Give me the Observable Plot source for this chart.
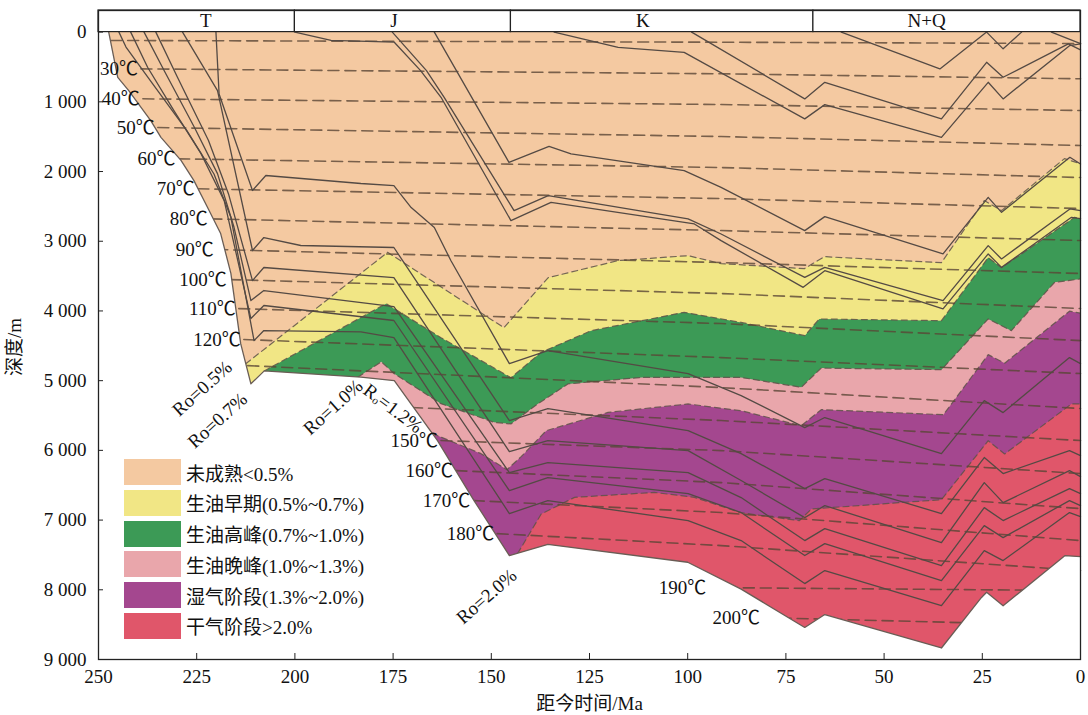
<!DOCTYPE html>
<html><head><meta charset="utf-8">
<script src="https://cdn.jsdelivr.net/npm/d3@7"></script>
<script src="https://cdn.jsdelivr.net/npm/@observablehq/plot@0.6"></script>
<style>
body{margin:0;background:#fff;}
#wrap{position:relative;width:1088px;height:715px;}
#legend{position:absolute;left:124px;top:459px;font-family:"Liberation Serif","Noto Sans CJK SC",serif;font-size:19px;color:#111;}
.row{display:flex;align-items:center;height:26px;margin-bottom:4.8px;}
.sw{width:57px;height:26px;margin-right:5px;}
</style></head><body><div id="wrap"></div>
<script>
const W = 1088, H = 715;
const periodNames = ["T","J","K","N+Q"];
const periodStart = [250,200,145,68];
const periodEnd = [200,145,68,0];
const periodLabelAt = [222.7,174.8,111.4,39.2];
const barTop = -310;
const xTicks = [250,225,200,175,150,125,100,75,50,25,0];
const yTicks = [0,1000,2000,3000,4000,5000,6000,7000,8000,9000];

const zoneNames = ["未成熟<0.5%","生油早期(0.5%~0.7%)","生油高峰(0.7%~1.0%)","生油晚峰(1.0%~1.3%)","湿气阶段(1.3%~2.0%)","干气阶段>2.0%"];
const zoneColors = ["#F4C9A1","#F1E685","#3C9A56","#E9A6AB","#A4478F","#E0566A"];

// deepest burial curve (base of section), [age Ma, depth m]
const baseCurve = [[247.4,0],[245.1,650],[242.3,840],[236.7,1270],[234.1,1510],[229,1840],[225.7,2130],[222.2,2520],[218.9,2890],[216.3,3460],[213.8,4470],[211.2,5045],[207.8,4860],[183.2,4950],[174.7,5000],[163.7,5860],[154.4,6720],[145.4,7510],[135.6,7350],[100,7605],[86.4,7990],[70.2,8540],[65.1,8355],[35.4,8835],[25.2,8110],[23.9,8035],[19.7,8230],[4,7510],[0,7525]];

// Ro iso-maturity boundaries
const ro05 = [[212.5,4757],[176.4,3159],[146.8,4240],[135.5,3522],[117.7,3278],[99.9,3207],[91.5,3321],[70.3,3393],[65.2,3221],[35.4,3307],[24.5,2417],[20.1,2561],[4.1,1815],[0,1887]];
const ro07 = [[207.8,4860],[176.8,3895],[162.8,4383],[145,4957],[137.3,4594],[124.6,4283],[100.9,4020],[86.4,4164],[70.2,4354],[66.5,4115],[35.4,4139],[23.5,3235],[20.1,3379],[1.5,2657],[0,2680]];
const ro10 = [[184,4950],[178,4730],[174.7,4900],[162.8,5330],[149.3,5598],[145,5621],[138.2,5334],[130.5,5047],[111.8,4953],[86.4,4953],[71.1,5096],[66,4820],[35.4,4842],[23.5,4115],[17.6,4283],[6.6,3590],[0,3541]];
const ro13 = [[165,5758],[152.6,6047],[146,6277],[142.4,6090],[136,5717],[120.3,5455],[99.9,5334],[86.4,5431],[71.1,5646],[66,5416],[34.9,5488],[23.5,4627],[19.3,4749],[2.8,4003],[0,4032]];
const ro20 = [[143.3,7480],[137.3,6913],[128.8,6674],[108.5,6603],[98.3,6674],[86.4,6894],[71.6,7009],[68.5,6841],[35.4,6707],[23.5,5861],[19.3,6052],[2.3,5334],[0,5334]];

// burial history lines
const lineA = [[134,0],[117.7,218],[100.9,290],[70.2,1245],[65.1,1040],[35.4,1509],[23.5,720],[19.7,958],[2.8,194],[0,169]];
const lineB = [[99,0],[70.2,958],[65.1,720],[35.4,1245],[23.9,433],[19.7,648],[3.1,169],[0,255]];
const lineE = [[60.9,0],[35.8,528],[23.9,0]];
const lineF = [[23.9,0],[19.7,240],[15,0]];
const lineG = [[7.4,0],[0,165]];
const lineC = [[164.5,0],[145.5,1868],[135.3,1638],[129.7,1747],[100.9,1987],[91.5,2227],[70.2,2848],[65.1,2647],[35,3182],[23.5,2370],[20.1,2585],[2.7,1796],[0,1891]];
const lineD1 = [[175.2,0],[166.5,552],[162,935],[144.2,2561],[135.5,2346],[99.9,2680],[91.5,2896],[70.2,3518],[65.1,3374],[35,3852],[23.5,3063],[20.1,3254],[2.7,2537],[0,2561]];
const lineD2 = [[200,0],[190.8,120],[174.7,145],[168,552],[162.8,935],[145,2704],[134.8,2442],[98.3,2752],[91.5,2991],[70.6,3661],[65.1,3422],[35,3971],[23.5,3182],[20.1,3375],[2.3,2657],[0,2676]];
const lineH = [[220.1,0],[219.3,887],[210.8,2272],[207.4,2057],[183.2,2172],[174.8,2201],[170.4,2517],[164.5,2803],[160.3,3277],[145.4,4755],[135.6,4568],[99.9,4898],[86.4,5214],[70.2,5673],[65.1,5529],[35.4,6046],[24.5,5286],[19.7,5458],[2.8,4669],[0,4755]];
const lineI = [[228.6,0],[219.7,840],[210.8,3133],[207.9,2947],[198.5,3061],[174.8,3090],[145.4,5572],[135.6,5400],[99.9,5716],[86.4,6046],[70.2,6548],[65.1,6405],[35.4,6907],[24.5,6103],[19.7,6333],[2.8,6003],[0,6075]];
const lineJ = [[235.4,0],[229.9,647],[222,1555],[216.9,2321],[210.8,3564],[207.9,3377],[174.8,3521],[145.4,6017],[135.6,5859],[99.9,6003],[86.4,6433],[70.2,6964],[65.1,6792],[35.4,7323],[24.5,6462],[19.7,6749],[2.8,6290],[0,6376]];
const lineK = [[238.4,0],[233.3,551],[225.6,1364],[219.7,2030],[215.5,2800],[211.2,3851],[207.9,3707],[174.8,3937],[145.4,6318],[135.6,6175],[99.9,6318],[86.4,6677],[70.2,7294],[65.1,7122],[35.4,7653],[24.5,6821],[19.7,7007],[2.8,6548],[0,6620]];
const lineK2 = [[241.8,0],[237.5,504],[230.8,1126],[223.9,1743],[218,2418],[211.2,4109],[207.9,3922],[174.8,4137],[145.4,6577],[135.6,6390],[99.9,6620],[86.4,6892],[70.2,7509],[65.1,7337],[35.4,7868],[24.5,7079],[19.7,7251],[2.8,6720],[0,6792]];
const lineL = [[244.8,0],[243,214],[236.2,743],[227.5,1413],[220.6,2035],[216.3,2656],[210.4,4425],[207.9,4281],[183.2,4300],[174.8,4382],[145.4,6907],[135.6,6720],[99.9,7007],[86.4,7294],[70.2,7911],[65.1,7724],[35.4,8227],[24.5,7438],[19.7,7581],[2.8,6892],[0,6950]];

// isotherms
const isoTemps  = [20,30,40,50,60,70,80,90,100,110,120,130,140,150,160,170,180,190,200];
const isoStartT = [246.9,239.2,238.7,234.9,229.6,224.7,221.4,219.9,216.6,214.3,213.0,212.0,170.3,162.8,159.0,154.6,148.5,94.5,80.8];
const isoStartD = [120,527,957,1369,1818,2248,2679,3119,3550,3966,4410,4784,5386,5859,6290,6720,7194,7968,8399];
const isoMidT = 91.5;
const isoMidD   = [145,598,1039,1498,1943,2388,2847,3306,3750,4181,4669,5099,5572,6003,6462,6892,7366,null,null];
const isoEndD   = [164,670,1125,1627,2086,2531,2990,3463,3965,4425,4898,5400,5859,6333,6835,7294,7724,8011,8514];
const isoUnlabelled = [20,130,140];

// Ro labels
const roLabelText = ["Ro=0.5%","Ro=0.7%","Ro=1.0%","Rₒ=1.2%","Ro=2.0%"];
const roLabelT = [223.6,219.7,190.3,175,151.2];
const roLabelD = [5113,5572,5382,5400,8097];
const roLabelAngle = [-42,-42,-42,37,-41];

// ---- build tables ----
const fmt = d => d3.format(",")(d).replace(/,/g, " ");
const px = p => p[0], py = p => p[1];
const roLines = [ro05, ro07, ro10, ro13, ro20];
const zonePolys = [baseCurve.concat([[0,0]])].concat(
  roLines.map(l => l.concat(baseCurve.filter(p => p[0] < l[0][0]).reverse())));
const maskPoly = [[250,0]].concat(baseCurve, [[0,9000],[250,9000]]);
const burialLines = [lineA,lineB,lineC,lineD1,lineD2,lineE,lineF,lineG,lineH,lineI,lineJ,lineK,lineK2,lineL];
const burialRows = burialLines.flatMap((pts,i) => pts.map(p => ({id:i, t:p[0], d:p[1]})));
const roRows = roLines.flatMap((pts,i) => pts.map(p => ({id:i, t:p[0], d:p[1]})));
const isoRows = isoTemps.flatMap((T,i) => {
  const pts = [[isoStartT[i], isoStartD[i]]];
  if (isoMidD[i] != null) pts.push([isoMidT, isoMidD[i]]);
  pts.push([0, isoEndD[i]]);
  return pts.map(p => ({T, t:p[0], d:p[1]}));
});
const isoLabels = isoTemps.map((T,i) => ({T, t:isoStartT[i], d:isoStartD[i]})).filter(o => !isoUnlabelled.includes(o.T));
const periods = periodNames.map((name,i) => ({name, s:periodStart[i], e:periodEnd[i], at:periodLabelAt[i]}));
const roLabels = roLabelText.map((s,i) => ({s, t:roLabelT[i], d:roLabelD[i], a:roLabelAngle[i]}));

const fontFam = '"Liberation Serif","Noto Sans CJK SC",serif';
const plot = Plot.plot({
  width: W, height: H,
  marginLeft: 98, marginRight: 8, marginTop: 10, marginBottom: 56,
  style: {fontFamily: fontFam, fontSize: "19px", background: "white", color: "#111"},
  x: {domain: [250, 0], label: null},
  y: {domain: [barTop, 9000], reverse: true, label: null},
  marks: [
    ...zonePolys.map((p,i) => Plot.line(p, {x: px, y: py, fill: zoneColors[i], stroke: "none", curve: "linear"})),
    Plot.line(roRows, {x: "t", y: "d", z: "id", stroke: "#5e5249", strokeWidth: 1.2, strokeDasharray: "6,4", strokeOpacity: 0.85, curve: "linear"}),
    Plot.line(isoRows, {x: "t", y: "d", z: "T", stroke: "#5a4636", strokeWidth: 1.6, strokeDasharray: "11,6", strokeOpacity: 0.8, curve: "linear"}),
    Plot.line(burialRows, {x: "t", y: "d", z: "id", stroke: "#544a44", strokeWidth: 1.3, curve: "linear"}),
    Plot.line(maskPoly, {x: px, y: py, fill: "white", stroke: "none"}),
    Plot.line(baseCurve, {x: px, y: py, stroke: "#6a5d55", strokeWidth: 1.3}),
    Plot.text(isoLabels, {x: "t", y: "d", text: o => `${o.T}℃`, textAnchor: "end", dx: -3, fill: "#111"}),
    Plot.text(roLabels, {x: "t", y: "d", text: "s", rotate: o => o.a, fill: "#111"}),
    Plot.rect(periods, {x1: "s", x2: "e", y1: () => barTop, y2: () => 0, fill: "white", stroke: "#222", strokeWidth: 1.2}),
    Plot.text(periods, {x: "at", y: () => barTop / 2, text: "name", fill: "#111"}),
    Plot.frame({stroke: "#222", strokeWidth: 1.3}),
    Plot.axisY(yTicks, {anchor: "left", tickSize: -5, tickPadding: 17, tickFormat: fmt, stroke: "#222", label: null}),
    Plot.axisX(xTicks, {anchor: "bottom", tickSize: -6, tickPadding: 16, tickFormat: d => String(d), stroke: "#222", label: null}),
    Plot.text(["距今时间/Ma"], {frameAnchor: "bottom", lineAnchor: "middle", dy: 44, fill: "#111"}),
    Plot.text(["深度/m"], {frameAnchor: "left", textAnchor: "middle", lineAnchor: "middle", dx: -84, dy: 12, rotate: -90, fill: "#111"})
  ]
});
const wrap = document.getElementById("wrap");
wrap.appendChild(plot);
const lg = document.createElement("div");
lg.id = "legend";
zoneNames.forEach((n,i) => {
  const r = document.createElement("div"); r.className = "row";
  const s = document.createElement("div"); s.className = "sw"; s.style.background = zoneColors[i];
  const t = document.createElement("span"); t.textContent = n;
  r.appendChild(s); r.appendChild(t); lg.appendChild(r);
});
wrap.appendChild(lg);
</script></body></html>
